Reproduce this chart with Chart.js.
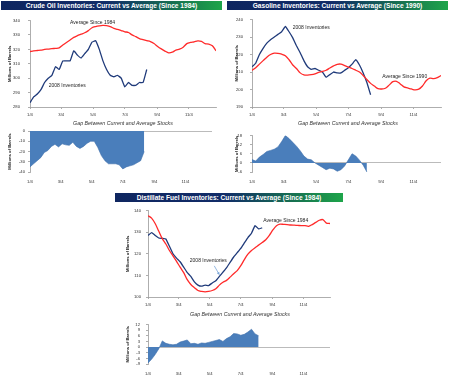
<!DOCTYPE html>
<html><head><meta charset="utf-8">
<script src="https://cdn.jsdelivr.net/npm/chart.js@4"></script>
<style>
body{margin:0;background:#fff;width:450px;height:381px;overflow:hidden;position:relative;font-family:"Liberation Sans",Arial,sans-serif}
.box{position:absolute}
.bar{position:absolute;height:9px;background:linear-gradient(to right,#0f2660 0%,#112c68 48%,#167050 78%,#1ea54a 100%);color:#fff;font-weight:bold;font-size:6.6px;line-height:9px;text-align:center;white-space:nowrap;overflow:hidden}
.sub{position:absolute;font-style:italic;font-size:5.3px;color:#333;white-space:nowrap;transform:translateX(-50%)}
</style></head><body>

<div class="bar" style="left:1px;top:1px;width:221px">Crude Oil Inventories: Current vs Average (Since 1984)</div>
<div class="bar" style="left:227px;top:1px;width:221px">Gasoline Inventories: Current vs Average (Since 1990)</div>
<div class="bar" style="left:115px;top:193px;width:228px">Distillate Fuel Inventories: Current vs Average (Since 1984)</div>

<div class="box" style="left:0;top:10px;width:225px;height:110px"><canvas id="c1"></canvas></div>
<div class="box" style="left:0;top:125px;width:225px;height:63px"><canvas id="g1"></canvas></div>
<div class="box" style="left:225px;top:10px;width:225px;height:110px"><canvas id="c2"></canvas></div>
<div class="box" style="left:225px;top:125px;width:225px;height:63px"><canvas id="g2"></canvas></div>
<div class="box" style="left:110px;top:203px;width:240px;height:107px"><canvas id="c3"></canvas></div>
<div class="box" style="left:110px;top:316px;width:240px;height:63px"><canvas id="g3"></canvas></div>

<div class="sub" style="left:123px;top:120px">Gap Between Current and Average Stocks</div>
<div class="sub" style="left:348px;top:120px">Gap Between Current and Average Stocks</div>
<div class="sub" style="left:240px;top:311px">Gap Between Current and Average Stocks</div>

<script>
// ---- categories: weekly report dates of 2008 (day-of-year), tick labels ----
const firstWeek = '1/4';
const weekCount = 52;
const tickLabels = ['1/4','3/4','5/4','7/4','9/4','11/4'];

// ---- Crude oil (millions of barrels) ----
const crudeAvg = [318.5,319,319.2,319.4,320,320.2,320.5,320.7,321,323,324.8,326.5,328.3,329.5,330.5,331.5,333,335,335.8,336.3,336.6,336.4,335.8,334.5,333.8,333,332.2,331.7,330,328.8,327.5,326.7,326,325.4,324,322,320.3,318.8,317.6,318,319.5,320.2,321.5,324,324.8,325.2,325.9,325.5,324,323.7,322.5,319];
const crude2008 = [283,287,289,292,297,300,302,308,306,312,312,312,319,316,314,317,320,325,326,320,312,306,302,301,302,300,294,297,295,295,297,297,306];
const crudeGap = [-35,-32,-29,-26,-21,-19,-15,-13,-15.5,-12.5,-13.5,-14,-11,-15,-17,-15,-12,-10,-10,-16,-24,-29,-32,-32,-32,-33,-37,-35,-34,-33,-31,-29,-20];

// ---- Gasoline ----
const gasAvg = [210.9,212.5,214.5,216.5,218.5,220,220.8,220.7,220.2,219.3,217,214,212,209.5,208.3,208.2,208.5,209,209.8,210.3,211,212.3,213.5,214.4,214.5,213.7,212.8,212,211,210,208,205.7,203.5,202,200.5,200.3,200.7,202.5,204.5,204.7,203.2,201.5,200.9,200.3,199.8,200.2,202,205,206.5,206.2,206.8,208];
const gas2008 = [213,215,220,223.5,226.5,228.5,230,231.5,233,236,233,229.5,225,221,216.5,213,211.5,212,211,210,207,208.5,210,209.5,209.5,211,212.5,214.5,217,214,209.5,204,197];
const gasGap = [2.2,1.2,3.8,5.5,7.5,8.2,9,10.5,14,18,16,13.5,11,8,4.5,2.5,2,0,-1.5,-3,-4.5,-3.5,-4,-5.5,-4.5,-2,2,6,4.5,1.8,-1.5,-6];

// ---- Distillate fuel ----
const distAvg = [137.6,136.5,134,130.5,127,124.5,121.5,119,116.5,113.8,111.3,108,105.8,104.3,103,102.6,102.4,102.6,103,103.8,105.5,106.8,107.7,109.2,110.8,112.2,114.5,117.3,119.8,121.5,122.8,124,125.2,126.5,128.5,131,133,133.7,133.6,133.5,133.3,133.2,133.1,133,133,132.7,133.5,134.5,135.5,135.8,134.2,134];
const dist2008 = [128.5,129.8,128.5,127.3,127.1,126.8,123.5,120,118,116.3,113.8,111.3,109.5,107,105.5,105,105.5,105.3,106.5,107.5,109.5,111.5,113.5,116,118.5,120.5,122.5,125,127.5,129.5,133,131.5,132];
const distGap = [-8.5,-6.5,-4,-1,3.3,2,1.5,1.2,1.5,2.7,3.2,3.8,1.8,2,1.5,2.2,2,2.5,3,3.5,4,3,4.5,5.5,7.2,7,6.3,6.8,8,9.5,7,6];

// ---- helpers ----
function dayOfYear(md){ const [m,d]=md.split('/').map(Number); return Math.round((new Date(2008,m-1,d)-new Date(2008,0,1))/864e5); }
const startDay = dayOfYear(firstWeek);
const weekDays = Array.from({length:weekCount},(_,i)=>startDay+7*i);
const tickDays = tickLabels.map(dayOfYear);
const xMin = weekDays[0], xMax = weekDays[weekCount-1];
const pts = arr => arr.map((v,i)=>({x:weekDays[i],y:v}));

const FONT = '"Liberation Sans", Arial, sans-serif';
Chart.defaults.font.family = FONT;
Chart.defaults.color = '#333';

const notePlugin = {
  id:'notes',
  afterDatasetsDraw(chart){
    const items = (chart.options.plugins.notes||{}).items||[];
    const ctx=chart.ctx, xs=chart.scales.x, ys=chart.scales.y;
    ctx.save();
    ctx.font = '5px '+FONT; ctx.fillStyle='#222'; ctx.textBaseline='middle'; ctx.textAlign='left';
    for(const n of items){
      ctx.fillText(n.text, xs.getPixelForValue(n.x), ys.getPixelForValue(n.y));
      if(n.arrow){
        const x1=xs.getPixelForValue(n.arrow[0]),y1=ys.getPixelForValue(n.arrow[1]),
              x2=xs.getPixelForValue(n.arrow[2]),y2=ys.getPixelForValue(n.arrow[3]);
        ctx.strokeStyle='#7aa6d8'; ctx.fillStyle='#7aa6d8'; ctx.lineWidth=0.8;
        ctx.beginPath(); ctx.moveTo(x1,y1); ctx.lineTo(x2,y2); ctx.stroke();
        const a=Math.atan2(y2-y1,x2-x1), L=3;
        ctx.beginPath(); ctx.moveTo(x2,y2);
        ctx.lineTo(x2-L*Math.cos(a-0.5),y2-L*Math.sin(a-0.5));
        ctx.lineTo(x2-L*Math.cos(a+0.5),y2-L*Math.sin(a+0.5)); ctx.closePath(); ctx.fill();
      }
    }
    ctx.restore();
  }
};

function xAxis(h, line, tickLen, pad){
  return {type:'linear', min:xMin, max:xMax,
    afterBuildTicks(s){ s.ticks = tickDays.map(v=>({value:v})); },
    ticks:{autoSkip:false, maxRotation:0, minRotation:0, padding:pad, font:{size:4.2}, color:'#333',
           callback:(v,i)=>tickLabels[i]},
    grid:{display:line, drawOnChartArea:false, tickLength:tickLen, color:'#999', lineWidth:0.8},
    border:{display:line, color:'#999', width:0.8},
    afterFit(s){ s.height=h; }
  };
}
function yAxis(min,max,step,w,labPad,titlePad,zeroLine){
  return {min, max,
    ticks:{stepSize:step, autoSkip:false, padding:labPad, font:{size:4.2}, color:'#333'},
    grid:{display:true, drawOnChartArea:!!zeroLine, tickLength:2, tickColor:'#999', lineWidth:0.8,
          color: zeroLine ? (c=>c.tick && c.tick.value===0 ? '#aaa' : 'rgba(0,0,0,0)') : '#999'},
    border:{display:true, color:'#999', width:0.8},
    title:{display:true, text:'Millions of Barrels', font:{size:4.2, weight:'bold'}, color:'#111', padding:{top:titlePad,bottom:0}},
    afterFit(s){ s.width=w; }
  };
}
function base(padding){
  return {responsive:true, maintainAspectRatio:false, animation:false, devicePixelRatio:1,
    layout:{padding, autoPadding:false},
    plugins:{legend:{display:false}, tooltip:{enabled:false}, title:{display:false}}};
}
function lineChart(id, avg, cur, y, pad, xh, notes){
  const o = base(pad);
  o.scales = {x:xAxis(xh,true,2,3), y:y};
  o.plugins.notes = {items:notes};
  new Chart(document.getElementById(id), {type:'line', plugins:[notePlugin],
    data:{datasets:[
      {data:pts(avg), borderColor:'#ff2a2a', borderWidth:1.3, pointRadius:0, tension:0.3, fill:false},
      {data:pts(cur), borderColor:'#1f3a7a', borderWidth:1.3, pointRadius:0, tension:0.1, fill:false}
    ]}, options:o});
}
function gapChart(id, gap, y, pad, xh){
  const o = base(pad);
  o.scales = {x:xAxis(xh,false,0,7), y:y};
  new Chart(document.getElementById(id), {type:'line',
    data:{datasets:[{data:pts(gap), borderColor:'#3e6fab', borderWidth:0.6, backgroundColor:'#4a7ebb',
      pointRadius:0, tension:0, fill:'origin'}]}, options:o});
}

lineChart('c1', crudeAvg, crude2008, yAxis(280,340,10,30,8,7,false), {top:7,right:9,left:0,bottom:0}, 13,
  [{text:'Average Since 1984', x:80, y:338.7},{text:'2008 Inventories', x:39, y:294.7}]);
gapChart('g1', crudeGap, yAxis(-40,0,10,30,3,7,true), {top:6,right:13,left:0,bottom:0}, 16);

lineChart('c2', gasAvg, gas2008, yAxis(190,240,10,27,7,9,false), {top:7,right:9,left:0,bottom:0}, 13,
  [{text:'2008 Inventories', x:80, y:235.6},{text:'Average Since 1990', x:249, y:207.2}]);
gapChart('g2', gasGap, yAxis(-6,18,6,27,8,9,true), {top:6,right:9,left:0,bottom:0}, 16);

lineChart('c3', distAvg, dist2008, yAxis(100,140,10,38,5,15,false), {top:6,right:20,left:0,bottom:0}, 13,
  [{text:'Average Since 1984', x:229, y:135.5},{text:'2008 Inventories', x:85, y:116.8, arrow:[133,114.4,143,110.3]}]);
gapChart('g3', distGap, yAxis(-9,12,3,38,6,15,true), {top:6,right:20,left:0,bottom:0}, 15);
</script>
</body></html>
